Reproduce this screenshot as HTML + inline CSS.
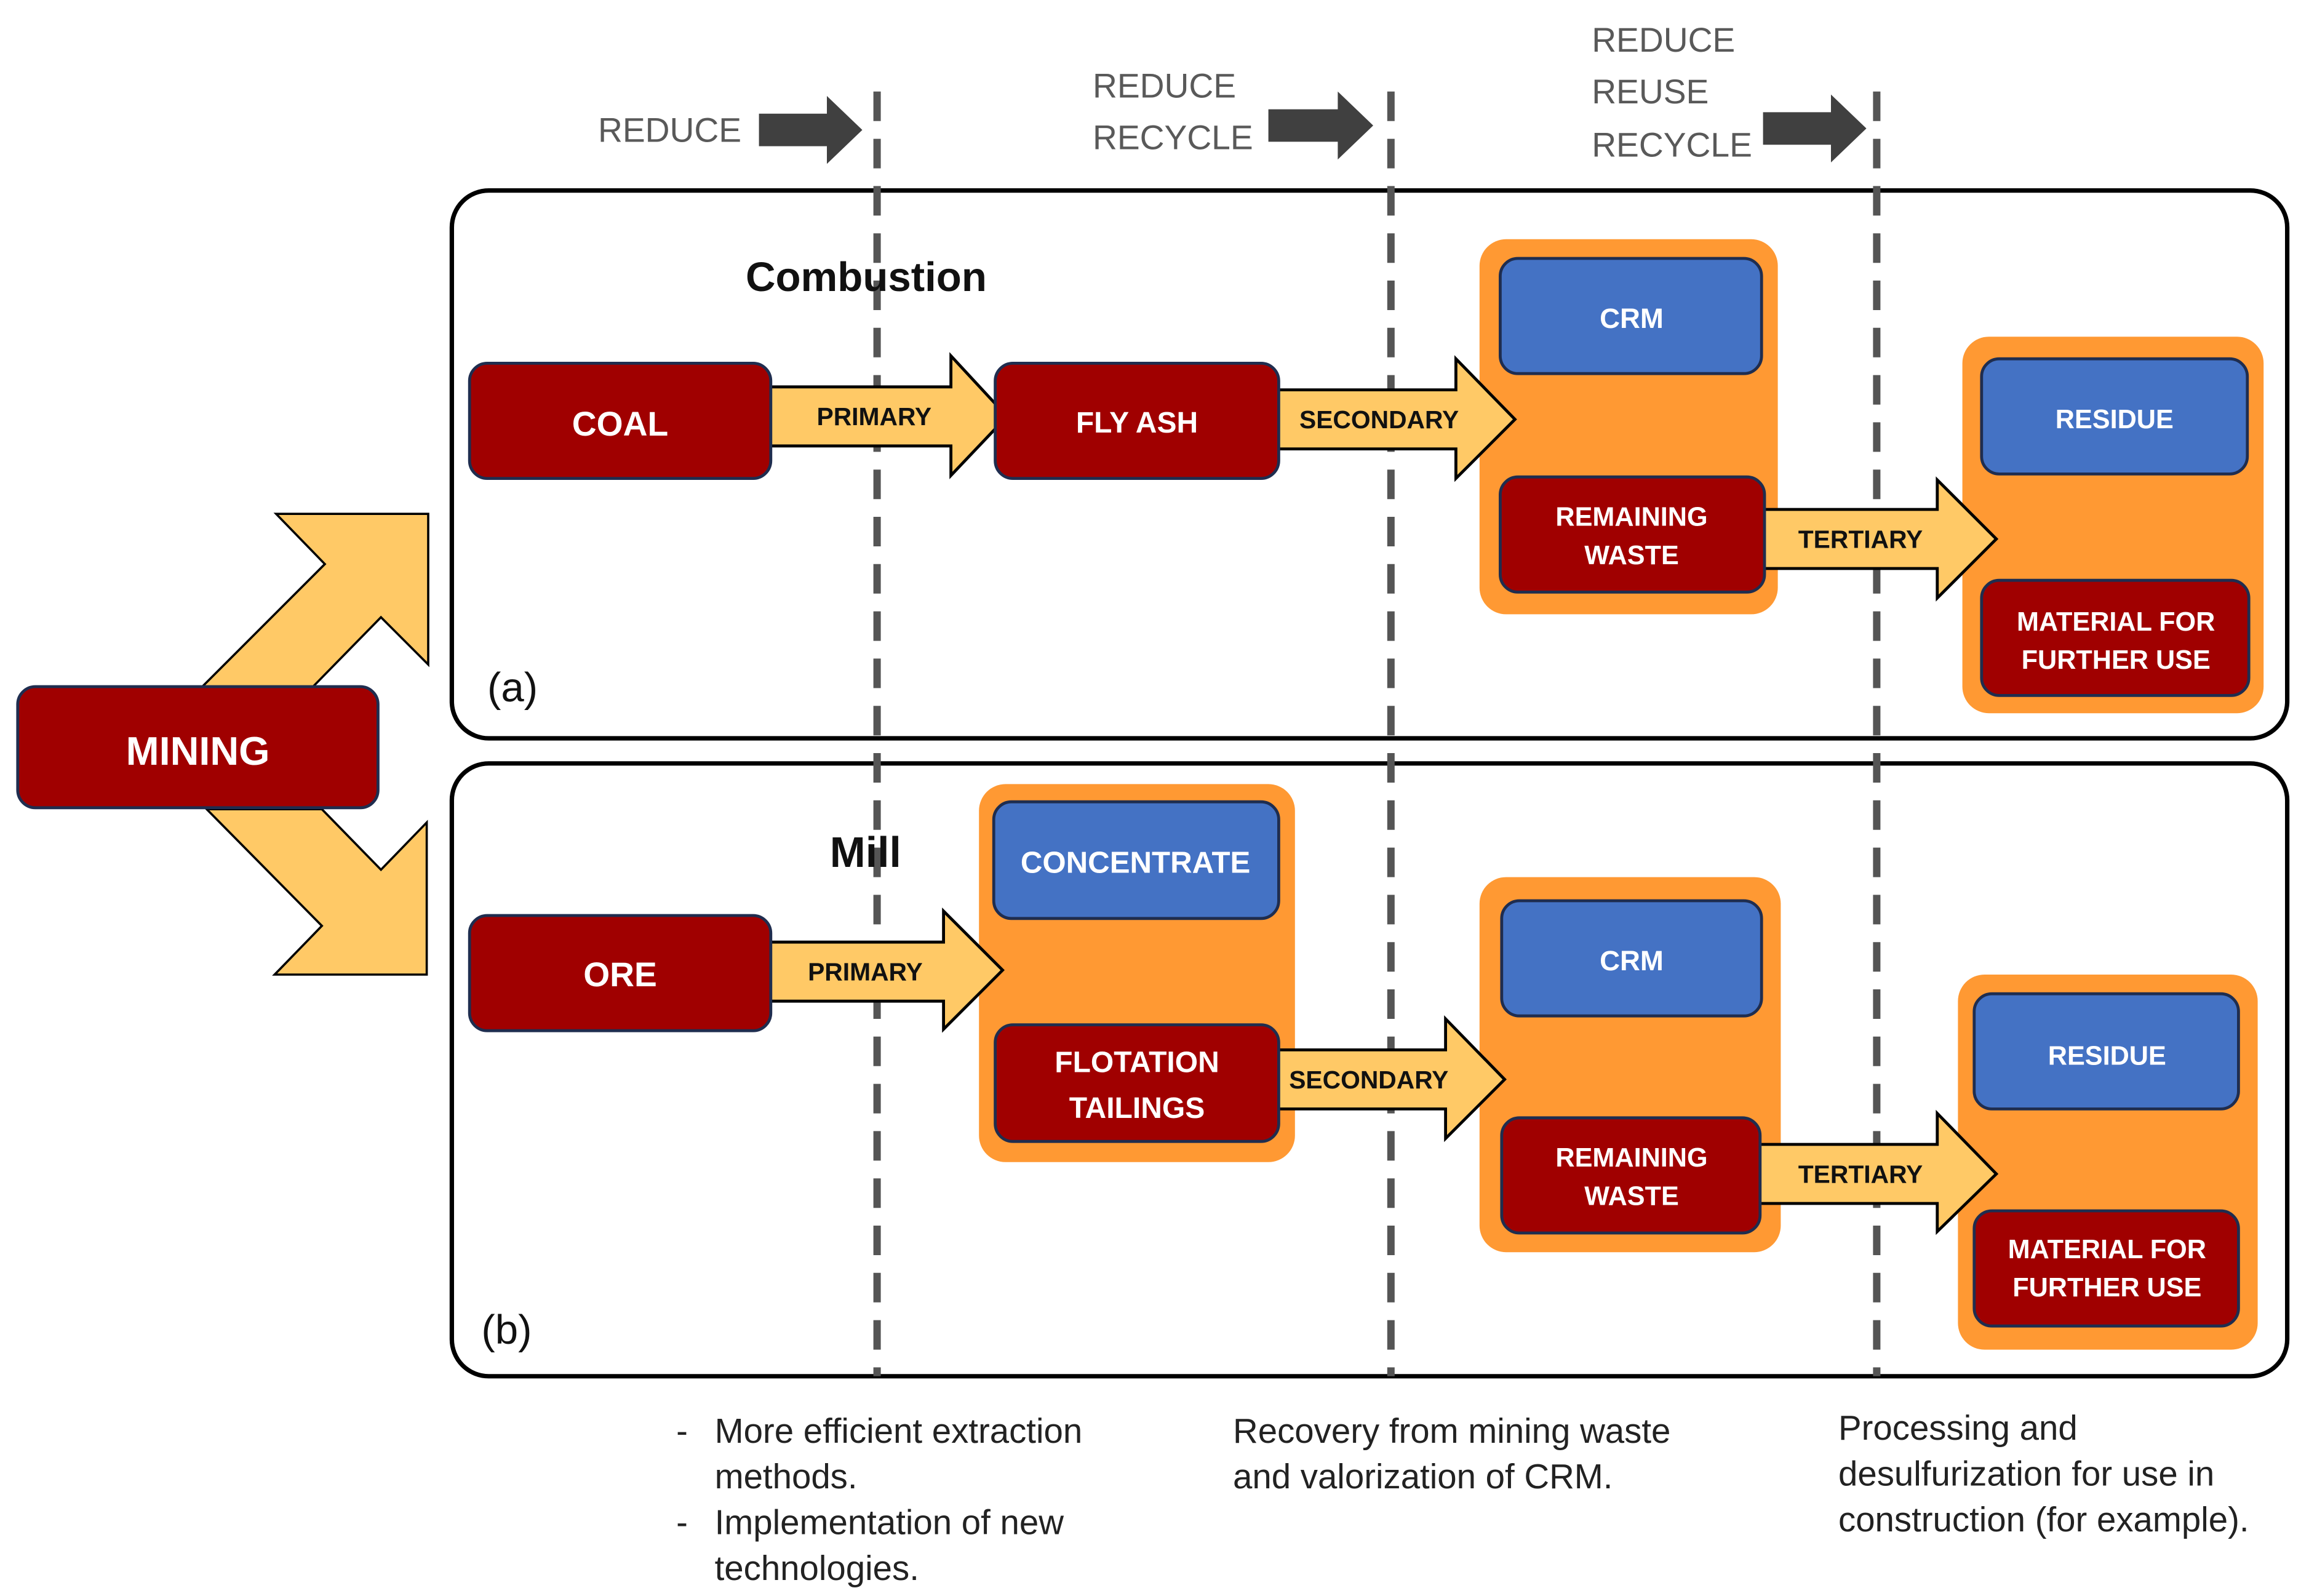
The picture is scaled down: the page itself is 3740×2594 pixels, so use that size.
<!DOCTYPE html>
<html><head><meta charset="utf-8"><style>
html,body{margin:0;padding:0;background:#fff;}
svg{display:block;}
text{font-family:"Liberation Sans",sans-serif;}
.bl{fill:#fff;font-weight:bold;font-size:19px;text-anchor:middle;}
.ar{fill:#111;font-weight:bold;font-size:17px;text-anchor:middle;}
.top{fill:#595959;font-size:23px;}
.bt{fill:#222;font-size:23.5px;}
</style></head><body>
<svg width="3740" height="2594" viewBox="0 0 1558.33 1080.83" preserveAspectRatio="none" xmlns="http://www.w3.org/2000/svg">
<rect width="1558.33" height="1080.83" fill="#fff"/>
<rect x="306" y="129" width="1243" height="371" rx="25" fill="none" stroke="#000" stroke-width="3"/>
<rect x="306" y="517" width="1243" height="415" rx="25" fill="none" stroke="#000" stroke-width="3"/>
<g stroke="#555" stroke-width="5" stroke-dasharray="20 12">
<line x1="594" y1="62" x2="594" y2="932"/>
<line x1="942" y1="62" x2="942" y2="932"/>
<line x1="1271" y1="62" x2="1271" y2="932"/>
</g>
<text class="top" x="405" y="96">REDUCE</text>
<text class="top" x="740" y="66">REDUCE</text>
<text class="top" x="740" y="101">RECYCLE</text>
<text class="top" x="1078" y="35">REDUCE</text>
<text class="top" x="1078" y="70">REUSE</text>
<text class="top" x="1078" y="106">RECYCLE</text>
<g fill="#404040">
<polygon points="514,77 560,77 560,65 584,88 560,111 560,99 514,99"/>
<polygon points="859,74 906,74 906,62 930,85 906,108 906,96 859,96"/>
<polygon points="1194,76 1240,76 1240,64 1264,87 1240,110 1240,98 1194,98"/>
</g>
<g fill="#FFC966" stroke="#000" stroke-width="1.5">
<polygon points="137,465 220,382 187,348 290,348 290,450 258,418 212,465"/>
<polygon points="140,548 218,627 186,660 289,660 289,557 258,589 218,548"/>
</g>
<rect x="12" y="465" width="244" height="82" rx="12" fill="#A00000" stroke="#1F2D4F" stroke-width="2"/>
<text class="bl" x="134" y="518" style="font-size:27px">MINING</text>

<text x="505" y="197" style="font-size:28px;font-weight:bold;fill:#111">Combustion</text>
<text x="562" y="587" style="font-size:29px;font-weight:bold;fill:#111">Mill</text>
<text x="330" y="475" style="font-size:28px;fill:#111">(a)</text>
<text x="326" y="910" style="font-size:28px;fill:#111">(b)</text>

<g fill="#FF9933">
<rect x="1002" y="162" width="202" height="254" rx="18"/>
<rect x="1329" y="228" width="204" height="255" rx="18"/>
<rect x="663" y="531" width="214" height="256" rx="18"/>
<rect x="1002" y="594" width="204" height="254" rx="18"/>
<rect x="1326" y="660" width="203" height="254" rx="18"/>
</g>
<g fill="#FFC966" stroke="#000" stroke-width="2">
<polygon points="520,262 644,262 644,241 682,282 644,322 644,302 520,302"/>
<polygon points="864,264 986,264 986,243 1026,284 986,324 986,304 864,304"/>
<polygon points="1187,345 1312,345 1312,325 1352,365 1312,405 1312,385 1187,385"/>
<polygon points="515,638 639,638 639,617 679,657 639,697 639,678 515,678"/>
<polygon points="857,711 979,711 979,690 1019,731 979,771 979,751 857,751"/>
<polygon points="1187,775 1312,775 1312,754 1352,795 1312,834 1312,815 1187,815"/>
</g>
<text class="ar" x="592" y="288">PRIMARY</text>
<text class="ar" x="934" y="290">SECONDARY</text>
<text class="ar" x="1260" y="371">TERTIARY</text>
<text class="ar" x="586" y="664">PRIMARY</text>
<text class="ar" x="927" y="737">SECONDARY</text>
<text class="ar" x="1260" y="801">TERTIARY</text>

<g fill="#A00000" stroke="#1F2D4F" stroke-width="2">
<rect x="318" y="246" width="204" height="78" rx="12"/>
<rect x="674" y="246" width="192" height="78" rx="12"/>
<rect x="1016" y="323" width="179" height="78" rx="12"/>
<rect x="1342" y="393" width="181" height="78" rx="12"/>
<rect x="318" y="620" width="204" height="78" rx="12"/>
<rect x="674" y="694" width="192" height="79" rx="12"/>
<rect x="1017" y="757" width="175" height="78" rx="12"/>
<rect x="1337" y="820" width="179" height="78" rx="12"/>
</g>
<g fill="#4472C4" stroke="#1F2D4F" stroke-width="2">
<rect x="1016" y="175" width="177" height="78" rx="12"/>
<rect x="1342" y="243" width="180" height="78" rx="12"/>
<rect x="673" y="543" width="193" height="79" rx="12"/>
<rect x="1017" y="610" width="176" height="78" rx="12"/>
<rect x="1337" y="673" width="179" height="78" rx="12"/>
</g>
<text class="bl" x="420" y="295" style="font-size:23px">COAL</text>
<text class="bl" x="770" y="293" style="font-size:20px">FLY ASH</text>
<text class="bl" x="1105" y="222">CRM</text>
<text class="bl" x="1105" y="356" style="font-size:18px">REMAINING</text>
<text class="bl" x="1105" y="382" style="font-size:18px">WASTE</text>
<text class="bl" x="1432" y="290" style="font-size:18px">RESIDUE</text>
<text class="bl" x="1433" y="427" style="font-size:18px">MATERIAL FOR</text>
<text class="bl" x="1433" y="453" style="font-size:18px">FURTHER USE</text>
<text class="bl" x="420" y="668" style="font-size:23px">ORE</text>
<text class="bl" x="769" y="591" style="font-size:20.5px">CONCENTRATE</text>
<text class="bl" x="770" y="726" style="font-size:20px">FLOTATION</text>
<text class="bl" x="770" y="757" style="font-size:20px">TAILINGS</text>
<text class="bl" x="1105" y="657">CRM</text>
<text class="bl" x="1105" y="790" style="font-size:18px">REMAINING</text>
<text class="bl" x="1105" y="816" style="font-size:18px">WASTE</text>
<text class="bl" x="1427" y="721" style="font-size:18px">RESIDUE</text>
<text class="bl" x="1427" y="852" style="font-size:18px">MATERIAL FOR</text>
<text class="bl" x="1427" y="878" style="font-size:18px">FURTHER USE</text>

<text class="bt" x="458" y="977">-</text>
<text class="bt" x="484" y="977">More efficient extraction</text>
<text class="bt" x="484" y="1008">methods.</text>
<text class="bt" x="458" y="1039">-</text>
<text class="bt" x="484" y="1039">Implementation of new</text>
<text class="bt" x="484" y="1070">technologies.</text>
<text class="bt" x="835" y="977">Recovery from mining waste</text>
<text class="bt" x="835" y="1008">and valorization of CRM.</text>
<text class="bt" x="1245" y="975">Processing and</text>
<text class="bt" x="1245" y="1006">desulfurization for use in</text>
<text class="bt" x="1245" y="1037">construction (for example).</text>
</svg>
</body></html>
